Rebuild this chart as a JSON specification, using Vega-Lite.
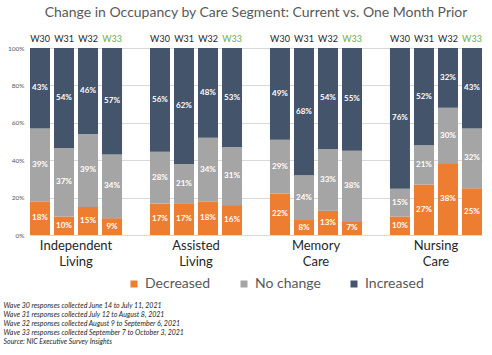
{
  "$schema": "https://vega.github.io/schema/vega-lite/v6.json",
  "width": 452,
  "height": 187,
  "autosize": {"type": "none"},
  "padding": {"left": 30, "top": 48, "right": 10, "bottom": 120},
  "background": "white",
  "config": {
    "font": "Lato",
    "view": {"stroke": null},
    "axisY": {
      "title": null,
      "format": ".0%",
      "values": [0, 0.1, 0.2, 0.3, 0.4, 0.5, 0.6, 0.7, 0.8, 0.9, 1],
      "labelOverlap": false,
      "labelFontSize": 6.5,
      "labelColor": "#595959",
      "labelPadding": 6,
      "gridColor": "#D9D9D9",
      "domain": false,
      "ticks": false
    }
  },
  "title": {
    "text": "Change in Occupancy by Care Segment: Current vs. One Month Prior",
    "fontSize": 14,
    "fontWeight": "normal",
    "color": "#595959",
    "anchor": "middle",
    "offset": 15
  },
  "data": {
    "values": [
      {"seg": "Independent Living", "w": "W30", "c": "Decreased", "o": 1, "v": 0.18},
      {"seg": "Independent Living", "w": "W30", "c": "No change", "o": 2, "v": 0.39},
      {"seg": "Independent Living", "w": "W30", "c": "Increased", "o": 3, "v": 0.43},
      {"seg": "Independent Living", "w": "W31", "c": "Decreased", "o": 1, "v": 0.10},
      {"seg": "Independent Living", "w": "W31", "c": "No change", "o": 2, "v": 0.37},
      {"seg": "Independent Living", "w": "W31", "c": "Increased", "o": 3, "v": 0.54},
      {"seg": "Independent Living", "w": "W32", "c": "Decreased", "o": 1, "v": 0.15},
      {"seg": "Independent Living", "w": "W32", "c": "No change", "o": 2, "v": 0.39},
      {"seg": "Independent Living", "w": "W32", "c": "Increased", "o": 3, "v": 0.46},
      {"seg": "Independent Living", "w": "W33", "c": "Decreased", "o": 1, "v": 0.09},
      {"seg": "Independent Living", "w": "W33", "c": "No change", "o": 2, "v": 0.34},
      {"seg": "Independent Living", "w": "W33", "c": "Increased", "o": 3, "v": 0.57},
      {"seg": "Assisted Living", "w": "W30", "c": "Decreased", "o": 1, "v": 0.17},
      {"seg": "Assisted Living", "w": "W30", "c": "No change", "o": 2, "v": 0.28},
      {"seg": "Assisted Living", "w": "W30", "c": "Increased", "o": 3, "v": 0.56},
      {"seg": "Assisted Living", "w": "W31", "c": "Decreased", "o": 1, "v": 0.17},
      {"seg": "Assisted Living", "w": "W31", "c": "No change", "o": 2, "v": 0.21},
      {"seg": "Assisted Living", "w": "W31", "c": "Increased", "o": 3, "v": 0.62},
      {"seg": "Assisted Living", "w": "W32", "c": "Decreased", "o": 1, "v": 0.18},
      {"seg": "Assisted Living", "w": "W32", "c": "No change", "o": 2, "v": 0.34},
      {"seg": "Assisted Living", "w": "W32", "c": "Increased", "o": 3, "v": 0.48},
      {"seg": "Assisted Living", "w": "W33", "c": "Decreased", "o": 1, "v": 0.16},
      {"seg": "Assisted Living", "w": "W33", "c": "No change", "o": 2, "v": 0.31},
      {"seg": "Assisted Living", "w": "W33", "c": "Increased", "o": 3, "v": 0.53},
      {"seg": "Memory Care", "w": "W30", "c": "Decreased", "o": 1, "v": 0.22},
      {"seg": "Memory Care", "w": "W30", "c": "No change", "o": 2, "v": 0.29},
      {"seg": "Memory Care", "w": "W30", "c": "Increased", "o": 3, "v": 0.49},
      {"seg": "Memory Care", "w": "W31", "c": "Decreased", "o": 1, "v": 0.08},
      {"seg": "Memory Care", "w": "W31", "c": "No change", "o": 2, "v": 0.24},
      {"seg": "Memory Care", "w": "W31", "c": "Increased", "o": 3, "v": 0.68},
      {"seg": "Memory Care", "w": "W32", "c": "Decreased", "o": 1, "v": 0.13},
      {"seg": "Memory Care", "w": "W32", "c": "No change", "o": 2, "v": 0.33},
      {"seg": "Memory Care", "w": "W32", "c": "Increased", "o": 3, "v": 0.54},
      {"seg": "Memory Care", "w": "W33", "c": "Decreased", "o": 1, "v": 0.07},
      {"seg": "Memory Care", "w": "W33", "c": "No change", "o": 2, "v": 0.38},
      {"seg": "Memory Care", "w": "W33", "c": "Increased", "o": 3, "v": 0.55},
      {"seg": "Nursing Care", "w": "W30", "c": "Decreased", "o": 1, "v": 0.10},
      {"seg": "Nursing Care", "w": "W30", "c": "No change", "o": 2, "v": 0.15},
      {"seg": "Nursing Care", "w": "W30", "c": "Increased", "o": 3, "v": 0.76},
      {"seg": "Nursing Care", "w": "W31", "c": "Decreased", "o": 1, "v": 0.27},
      {"seg": "Nursing Care", "w": "W31", "c": "No change", "o": 2, "v": 0.21},
      {"seg": "Nursing Care", "w": "W31", "c": "Increased", "o": 3, "v": 0.52},
      {"seg": "Nursing Care", "w": "W32", "c": "Decreased", "o": 1, "v": 0.38},
      {"seg": "Nursing Care", "w": "W32", "c": "No change", "o": 2, "v": 0.30},
      {"seg": "Nursing Care", "w": "W32", "c": "Increased", "o": 3, "v": 0.32},
      {"seg": "Nursing Care", "w": "W33", "c": "Decreased", "o": 1, "v": 0.25},
      {"seg": "Nursing Care", "w": "W33", "c": "No change", "o": 2, "v": 0.32},
      {"seg": "Nursing Care", "w": "W33", "c": "Increased", "o": 3, "v": 0.43}
    ]
  },
  "encoding": {
    "x": {
      "field": "seg",
      "type": "nominal",
      "sort": ["Independent Living", "Assisted Living", "Memory Care", "Nursing Care"],
      "scale": {"paddingInner": 0.233, "paddingOuter": 0},
      "axis": {
        "labelExpr": "split(datum.label, ' ')",
        "labelAngle": 0,
        "labelFontSize": 13,
        "labelColor": "#262626",
        "labelLineHeight": 16,
        "labelPadding": 4,
        "labelBaseline": "top",
        "labelOverlap": false,
        "ticks": false,
        "domainColor": "#D9D9D9",
        "title": [
          "Wave 30 responses collected June 14 to July 11, 2021",
          "Wave 31 responses collected July 12 to August 8, 2021",
          "Wave 32 responses collected August 9 to September 6, 2021",
          "Wave 33 responses collected September 7 to October 3, 2021",
          "Source: NIC Executive Survey Insights"
        ],
        "titleFontSize": 7,
        "titleFontStyle": "italic",
        "titleFontWeight": "normal",
        "titleColor": "#262626",
        "titleAlign": "left",
        "titleAnchor": "start",
        "titleBaseline": "top",
        "titleLineHeight": 9,
        "titleX": -27,
        "titleY": 66
      }
    },
    "xOffset": {
      "field": "w",
      "type": "nominal",
      "sort": ["W30", "W31", "W32", "W33"],
      "scale": {"paddingInner": 0.167, "paddingOuter": 0}
    }
  },
  "layer": [
    {
      "mark": {"type": "bar"},
      "encoding": {
        "y": {
          "field": "v",
          "type": "quantitative",
          "stack": "normalize",
          "scale": {"domain": [0, 1]}
        },
        "color": {
          "field": "c",
          "type": "nominal",
          "scale": {
            "domain": ["Decreased", "No change", "Increased"],
            "range": ["#ED7D31", "#A5A5A5", "#44546A"]
          },
          "legend": {
            "title": null,
            "orient": "none",
            "direction": "horizontal",
            "legendX": 97,
            "legendY": 229,
            "symbolType": "square",
            "symbolSize": 49,
            "symbolStrokeWidth": 0,
            "labelFontSize": 14,
            "labelColor": "#595959",
            "labelOffset": 4,
            "columnPadding": 26
          }
        },
        "order": {"field": "o", "type": "quantitative"}
      }
    },
    {
      "mark": {"type": "text", "color": "white", "fontSize": 8, "fontWeight": "bold"},
      "encoding": {
        "y": {"field": "v", "type": "quantitative", "stack": "normalize", "bandPosition": 0.5},
        "text": {"field": "v", "type": "quantitative", "format": ".0%"},
        "order": {"field": "o", "type": "quantitative"}
      }
    },
    {
      "transform": [{"filter": "datum.o === 1"}],
      "mark": {"type": "text", "fontSize": 9, "dy": -9},
      "encoding": {
        "y": {"datum": 1, "type": "quantitative"},
        "text": {"field": "w", "type": "nominal"},
        "color": {
          "condition": {"test": "datum.w === 'W33'", "value": "#70AD47"},
          "value": "#262626"
        }
      }
    }
  ]
}
